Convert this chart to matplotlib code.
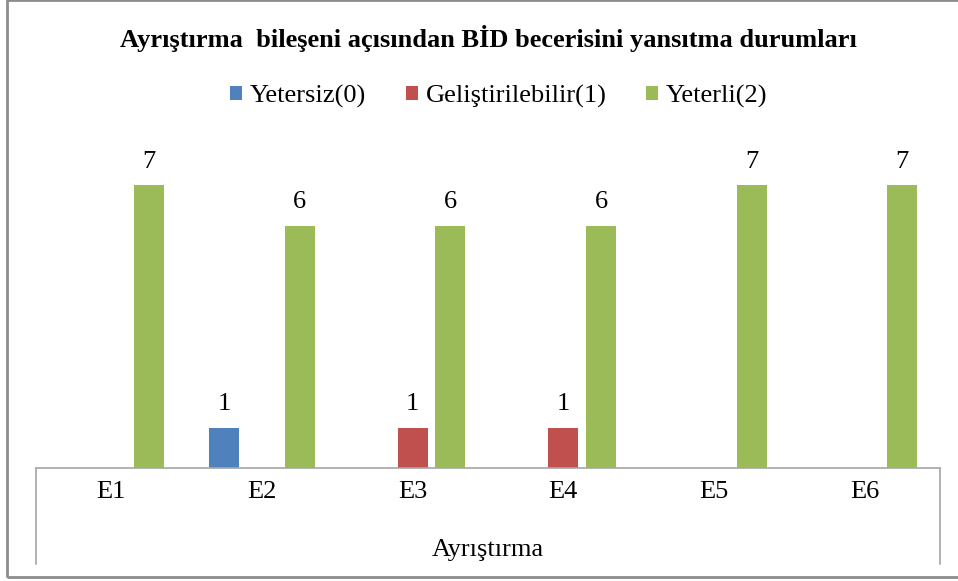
import numpy as np
import matplotlib
matplotlib.use("Agg")
import matplotlib.pyplot as plt
from matplotlib.patches import Rectangle

plt.rcParams['font.family'] = ['Liberation Serif', 'DejaVu Serif']

kategoriler = ['E1', 'E2', 'E3', 'E4', 'E5', 'E6']
seriler = ['Yetersiz(0)', 'Geliştirilebilir(1)', 'Yeterli(2)']
yetersiz = [0, 1, 0, 0, 0, 0]
gelistirilebilir = [0, 0, 1, 1, 0, 0]
yeterli = [7, 6, 6, 6, 7, 7]
renkler = ['#4F81BD', '#C0504D', '#9BBB59']

fig = plt.figure(figsize=(9.58, 5.81), dpi=100)
ax = fig.add_axes([36/958, 113/581, 904/958, 323/581])

x = np.arange(len(kategoriler))
genislik = 0.2
adim = 0.25
for i, (ad, degerler) in enumerate(zip(seriler, [yetersiz, gelistirilebilir, yeterli])):
    konum = x + (i - 1) * adim
    ax.bar(konum, degerler, genislik, color=renkler[i], label=ad)
    for k, v in zip(konum, degerler):
        if v > 0:
            ax.annotate(str(v), (k, v), xytext=(0, 9), textcoords='offset points',
                        ha='center', va='bottom', fontsize=19)

ax.set_xlim(-0.5, 5.5)
ax.set_ylim(0, 8)
ax.set_yticks([])
ax.set_xticks(x)
ax.set_xticklabels(kategoriler, fontsize=19)
ax.tick_params(axis='x', length=0, pad=9)
for s in ['top', 'left', 'right']:
    ax.spines[s].set_visible(False)
ax.spines['bottom'].set_color('#a6a6a6')
ax.spines['bottom'].set_linewidth(1.2)
# kategori kutusunun yan cizgileri
for xx in [-0.5, 5.5]:
    ax.axvline(xx, ymin=-0.297, ymax=0, color='#a6a6a6', lw=1.2, clip_on=False)
ax.set_xlabel('Ayrıştırma', fontsize=19, labelpad=26)

fig.text(488/958, 1 - 39/581, 'Ayrıştırma  bileşeni açısından BİD becerisini yansıtma durumları',
         ha='center', va='center', fontsize=19, fontweight='bold')
fig.legend(loc='center', bbox_to_anchor=(499/958, 1 - 96/581), ncol=3, frameon=False,
           fontsize=19, handlelength=0.45, handleheight=0.45, handletextpad=0.3,
           columnspacing=1.5)

fig.patches.append(Rectangle((7/958, 4/581), 1.0, 1 - 4/581, transform=fig.transFigure,
                             fill=False, edgecolor='#8c8c8c', lw=2))

fig.savefig('out.png', dpi=100)
